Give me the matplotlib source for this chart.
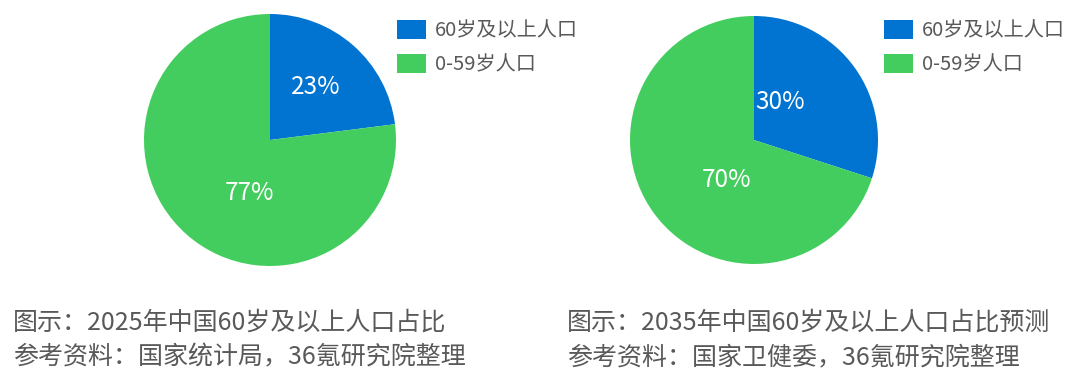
import matplotlib
matplotlib.use('Agg')
import matplotlib.pyplot as plt

plt.rcParams['font.family'] = ['Noto Sans CJK SC', 'DejaVu Sans']

# data
labels = ['60岁及以上人口', '0-59岁人口']
share_2025 = [23, 77]
share_2035 = [30, 70]
colors = ['#0074D0', '#44CD5F']
captions_2025 = ['图示：2025年中国60岁及以上人口占比', '参考资料：国家统计局，36氪研究院整理']
captions_2035 = ['图示：2035年中国60岁及以上人口占比预测', '参考资料：国家卫健委，36氪研究院整理']

W, H = 1080, 371
fig = plt.figure(figsize=(W / 100, H / 100), dpi=100)
txt_color = '#595959'


def draw_pie(values, cx, cy, r, label_pos, legend_x, caps, cap_x):
    ax = fig.add_axes([(cx - r) / W, (H - cy - r) / H, 2 * r / W, 2 * r / H])
    wedges, texts = ax.pie(values, colors=colors, startangle=90, counterclock=False,
                           radius=1, wedgeprops=dict(linewidth=0))
    ax.set_xlim(-1, 1)
    ax.set_ylim(-1, 1)
    ax.set_aspect('equal')
    ax.axis('off')
    for v, (lx, ly) in zip(values, label_pos):
        ax.text(lx, ly, f'{v}%', color='white', fontsize=17.5, ha='center', va='center')
    ax.legend(wedges, labels, loc='upper left', bbox_to_anchor=(legend_x / W, 1 - 12 / H),
              bbox_transform=fig.transFigure, frameon=False, fontsize=14.5,
              handlelength=1.45, handleheight=1.1, handletextpad=0.45,
              labelspacing=0.62, labelcolor=txt_color, borderaxespad=0)
    fig.text(cap_x / W, 1 - 323 / H, caps[0], fontsize=18, color=txt_color, va='center')
    fig.text(cap_x / W, 1 - 357 / H, caps[1], fontsize=18, color=txt_color, va='center')


draw_pie(share_2025, 270, 140, 126, [(0.36, 0.42), (-0.16, -0.42)], 389, captions_2025, 13)
draw_pie(share_2035, 754, 140, 124, [(0.21, 0.31), (-0.22, -0.32)], 876, captions_2035, 567)

fig.savefig('out.png', dpi=100)
